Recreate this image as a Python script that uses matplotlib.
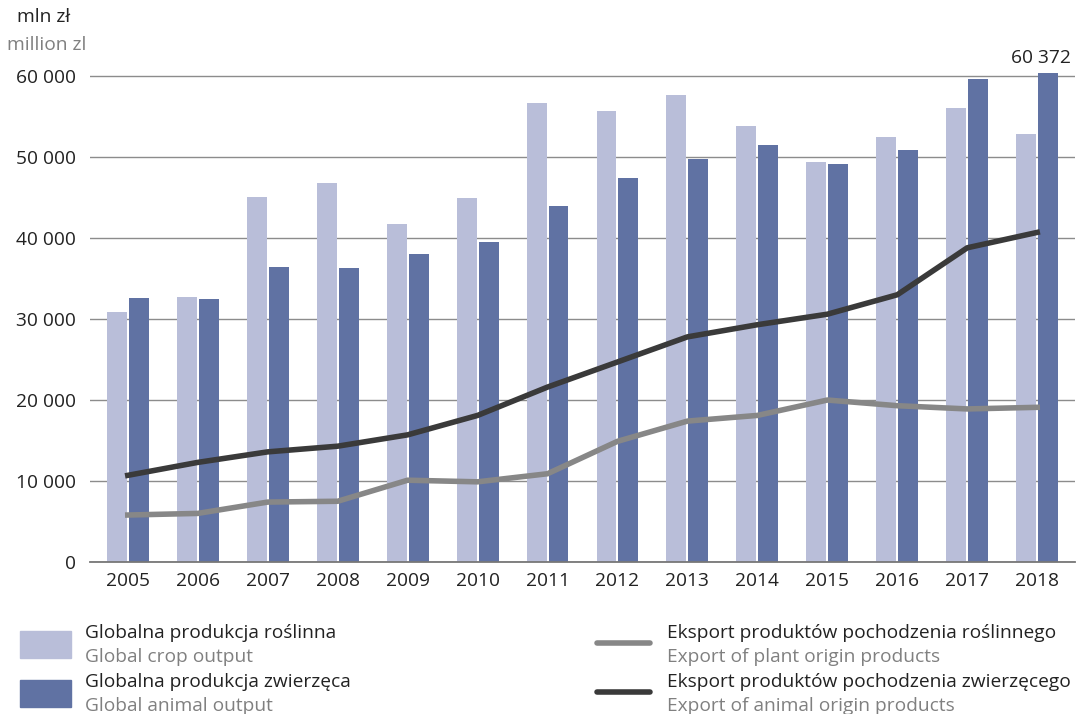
import numpy as np
import matplotlib.pyplot as plt
from matplotlib.patches import Rectangle
from matplotlib.lines import Line2D

plt.rcParams['font.family'] = ['Open Sans', 'DejaVu Sans']

years = ['2005', '2006', '2007', '2008', '2009', '2010', '2011',
         '2012', '2013', '2014', '2015', '2016', '2017', '2018']
crop_output = [30900, 32700, 45100, 46800, 41700, 44900, 56700,
               55700, 57700, 53800, 49400, 52500, 56000, 52800]
animal_output = [32600, 32500, 36400, 36300, 38000, 39500, 44000,
                 47400, 49800, 51500, 49100, 50900, 59600, 60372]
plant_export = [5800, 6000, 7400, 7500, 10100, 9900, 10900,
                14900, 17400, 18100, 20000, 19300, 18900, 19100]
animal_export = [10700, 12300, 13600, 14300, 15700, 18100, 21600,
                 24700, 27800, 29300, 30600, 33000, 38800, 40700]
y_ticks = [0, 10000, 20000, 30000, 40000, 50000, 60000]

LIGHT = '#b9bed9'
DARK = '#6072a3'
GREY_LINE = '#878787'
DARK_LINE = '#3a3a3a'
FS = 13.8


def fmt(v):
    return f'{v:,}'.replace(',', ' ')


fig = plt.figure(figsize=(10.78, 7.14), dpi=100)
ax = fig.add_axes([90 / 1078, 1 - 562 / 714, 985 / 1078, 494 / 714])

x = np.arange(len(years))
w = 0.285
ax.bar(x - 0.157, crop_output, width=w, color=LIGHT, zorder=2)
ax.bar(x + 0.157, animal_output, width=w, color=DARK, zorder=2)
ax.plot(x, plant_export, color=GREY_LINE, lw=4, zorder=3,
        solid_joinstyle='round')
ax.plot(x, animal_export, color=DARK_LINE, lw=4, zorder=4,
        solid_joinstyle='round')

ax.text(x[-1] + 0.05, animal_output[-1] + 800, fmt(animal_output[-1]),
        ha='center', va='bottom', fontsize=FS, color='#222222')

ax.set_xlim(-0.54, len(years) - 0.46)
ax.set_ylim(0, 61000)
ax.set_yticks(y_ticks)
ax.set_yticklabels([fmt(v) for v in y_ticks])
ax.set_xticks(x)
ax.set_xticklabels(years)
ax.tick_params(length=0, labelsize=FS, colors='#222222')
ax.tick_params(axis='y', pad=10)
ax.tick_params(axis='x', pad=7)
ax.grid(axis='y', color='#8c8c8c', lw=1, zorder=0)
for s in ['top', 'right', 'left']:
    ax.spines[s].set_visible(False)
ax.spines['bottom'].set_color('#777777')
ax.spines['bottom'].set_linewidth(1.3)

fig.text(44 / 1078, 1 - 17 / 714, 'mln zł', ha='center', va='center',
         fontsize=FS, color='#222222')
fig.text(47 / 1078, 1 - 45 / 714, 'million zl', ha='center', va='center',
         fontsize=FS, color='#808080')

# legend
def px(xp, yp):
    return xp / 1078, 1 - yp / 714

for yp, col, pl, en in [(631, LIGHT, 'Globalna produkcja roślinna', 'Global crop output'),
                        (680, DARK, 'Globalna produkcja zwierzęca', 'Global animal output')]:
    x0, y0 = px(20, yp + 27)
    fig.patches.append(Rectangle((x0, y0), 51 / 1078, 27 / 714, color=col,
                                 transform=fig.transFigure))
    fig.text(*px(85, yp + 2), pl, fontsize=FS, color='#222222', va='center')
    fig.text(*px(85, yp + 26), en, fontsize=FS, color='#808080', va='center')

for yp, col, pl, en in [(643, GREY_LINE, 'Eksport produktów pochodzenia roślinnego', 'Export of plant origin products'),
                        (692, DARK_LINE, 'Eksport produktów pochodzenia zwierzęcego', 'Export of animal origin products')]:
    xa, ya = px(597, yp)
    xb, _ = px(650, yp)
    fig.add_artist(Line2D([xa, xb], [ya, ya], color=col, lw=4,
                          solid_capstyle='round', transform=fig.transFigure))
    fig.text(*px(667, yp - 10), pl, fontsize=FS, color='#222222', va='center')
    fig.text(*px(667, yp + 14), en, fontsize=FS, color='#808080', va='center')

fig.savefig('out.png', dpi=100)
